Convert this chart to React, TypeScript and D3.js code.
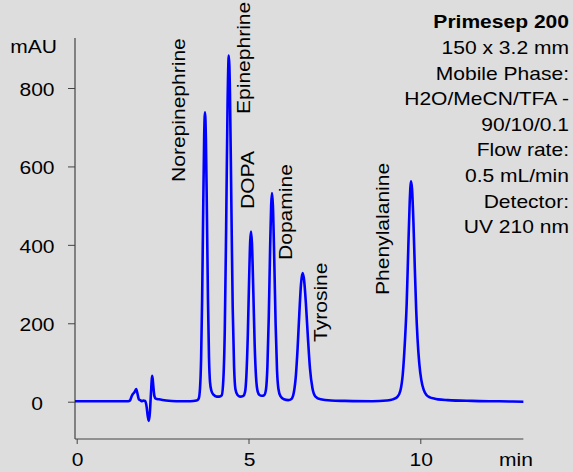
import React, { useEffect, useRef } from "react";
import * as d3 from "d3";

// chromatogram trace: time (min) and absorbance (mAU)
const traceTime = [
  -0.05, 0.8, 1.5, 1.55, 1.6, 1.64, 1.68, 1.73, 1.77, 1.81, 1.85, 1.89, 1.94, 1.99, 2.03, 2.07, 2.1, 2.13,
  2.16, 2.2, 2.23, 2.26, 2.3, 2.4, 2.6, 2.9, 3.3, 3.49, 3.55, 3.59, 3.62, 3.65, 3.68, 3.71, 3.734, 3.76,
  3.79, 3.82, 3.85, 3.88, 3.92, 3.98, 4.074, 4.15, 4.22, 4.27, 4.31, 4.35, 4.39, 4.427, 4.46, 4.5, 4.54,
  4.58, 4.62, 4.68, 4.753, 4.85, 4.9, 4.94, 4.98, 5.02, 5.05, 5.073, 5.1, 5.14, 5.18, 5.22, 5.27, 5.32,
  5.384, 5.46, 5.51, 5.55, 5.59, 5.63, 5.66, 5.684, 5.71, 5.75, 5.79, 5.83, 5.87, 5.93, 6.03, 6.158, 6.25,
  6.32, 6.38, 6.43, 6.48, 6.53, 6.575, 6.62, 6.67, 6.73, 6.79, 6.86, 6.95, 7.1, 7.4, 7.8, 8.6, 9.02, 9.2,
  9.33, 9.42, 9.49, 9.55, 9.604, 9.65, 9.69, 9.729, 9.76, 9.8, 9.84, 9.88, 9.92, 9.97, 10.03, 10.1, 10.18,
  10.28, 10.4, 10.52, 10.8, 11.5, 12.3, 13.0,
];
const traceMAU = [
  1, 1, 1, 3, 14, 20, 24, 32, 20, 6, 4, 1, 3, 2, -10, -38, -49, -28,
  20, 66, 40, 15, 8, 6, 3, 1, 1, 3, 8, 36, 107, 258, 478, 677, 738, 672,
  478, 264, 114, 50, 28, 18, 13, 13, 16, 60, 184, 447, 755, 883, 790, 513, 241,
  90, 32, 17, 13, 15, 25, 69, 170, 320, 410, 434, 405, 282, 144, 62, 25, 17,
  15, 17, 32, 89, 216, 395, 502, 532, 501, 361, 196, 80, 33, 14, 6, 4, 7,
  24, 68, 138, 226, 302, 328, 309, 251, 162, 84, 35, 13, 6, 3, 2, 1, 3, 6,
  12, 28, 70, 150, 251, 390, 505, 562, 542, 458, 342, 235, 160, 98, 55, 30, 17,
  11, 8, 6, 4, 2, 1, 0,
];

const peakNames = ["Norepinephrine", "Epinephrine", "DOPA", "Dopamine", "Tyrosine", "Phenylalanine"];
const peakTimes = [3.734, 4.427, 5.073, 5.684, 6.575, 9.729];
// label placement: offset from the peak (px) and bottom end of the rotated text
const peakLabelDx = [-20.5, 21, 2.5, 20, 24, -22];
const peakLabelY = [182, 114, 209, 260, 342, 295];

const yLabelTicks = [0, 200, 400, 600, 800];
const yMinorTicks = d3.range(-50, 901, 50);
const xLabelTicks = [0, 5, 10];
const xMinorTicks = d3.range(0, 14, 1);

const infoLines = [
  "Primesep 200",
  "150 x 3.2 mm",
  "Mobile Phase:",
  "H2O/MeCN/TFA -",
  "90/10/0.1",
  "Flow rate:",
  "0.5 mL/min",
  "Detector:",
  "UV 210 nm",
];

const W = 573;
const H = 472;
const FONT = "'Liberation Sans', Arial, Helvetica, sans-serif";
const FS = 18.8;
const SX = 1.12;

export default function App() {
  const ref = useRef<SVGSVGElement | null>(null);

  useEffect(() => {
    const svg = d3.select(ref.current);
    svg.selectAll("*").remove();

    svg.append("rect").attr("width", W).attr("height", H).attr("fill", "#dddddd");

    const x = d3.scaleLinear().domain([0, 10]).range([76.7, 420.3]);
    const y = d3.scaleLinear().domain([0, 800]).range([401.7, 88]);

    const axisX = 75;
    const axisY = 439;
    const axisColor = "#444";

    const addText = (
      g: any,
      tx: number,
      ty: number,
      str: string,
      anchor: string,
      rot = 0,
      bold = false
    ) =>
      g
        .append("text")
        .attr("transform", `translate(${tx},${ty}) rotate(${rot}) scale(${SX},1)`)
        .attr("text-anchor", anchor)
        .attr("font-family", FONT)
        .attr("font-size", FS)
        .attr("font-weight", bold ? "bold" : "normal")
        .attr("fill", "#000")
        .text(str);

    // y axis
    const gy = svg.append("g").attr("transform", `translate(${axisX},0)`);
    gy.call(d3.axisLeft(y).tickValues(yMinorTicks).tickSize(4).tickFormat(() => ""));
    gy.call(d3.axisLeft(y).tickValues(yLabelTicks).tickSize(7).tickFormat(() => ""));
    gy.selectAll(".domain").remove();
    gy.selectAll("line").attr("stroke", axisColor);
    svg
      .append("line")
      .attr("x1", axisX)
      .attr("x2", axisX)
      .attr("y1", 38)
      .attr("y2", axisY)
      .attr("stroke", axisColor)
      .attr("stroke-width", 1.2);

    // x axis
    const gx = svg.append("g").attr("transform", `translate(0,${axisY})`);
    gx.call(d3.axisBottom(x).tickValues(xMinorTicks).tickSize(3).tickFormat(() => ""));
    gx.call(d3.axisBottom(x).tickValues(xLabelTicks).tickSize(5).tickFormat(() => ""));
    gx.selectAll(".domain").remove();
    gx.selectAll("line").attr("stroke", axisColor);
    svg
      .append("line")
      .attr("x1", axisX)
      .attr("x2", x(13))
      .attr("y1", axisY)
      .attr("y2", axisY)
      .attr("stroke", axisColor)
      .attr("stroke-width", 1.2);

    yLabelTicks.forEach((v) => addText(svg, 37, y(v) + 8, String(v), "middle"));
    addText(svg, 57, 53, "mAU", "end");
    xLabelTicks.forEach((t) => addText(svg, x(t) + 1, 466, String(t), "middle"));
    addText(svg, 516, 466, "min", "middle");

    // trace
    const points = traceTime.map((t, i) => [t, traceMAU[i]] as [number, number]);
    const line = d3
      .line<[number, number]>()
      .x((d) => x(d[0]))
      .y((d) => y(d[1]))
      .curve(d3.curveMonotoneX);
    svg
      .append("path")
      .attr("d", line(points))
      .attr("fill", "none")
      .attr("stroke", "#0000ff")
      .attr("stroke-width", 2.6)
      .attr("stroke-linejoin", "round");

    // peak labels
    peakNames.forEach((name, i) =>
      addText(svg, x(peakTimes[i]) + peakLabelDx[i], peakLabelY[i], name, "start", -90)
    );

    // method info
    infoLines.forEach((s, i) => addText(svg, 569, 28.3 + i * 25.6, s, "end", 0, i === 0));
  }, []);

  return (
    <svg
      ref={ref}
      width={W}
      height={H}
      style={{ position: "absolute", left: 0, top: 0, display: "block" }}
    />
  );
}
